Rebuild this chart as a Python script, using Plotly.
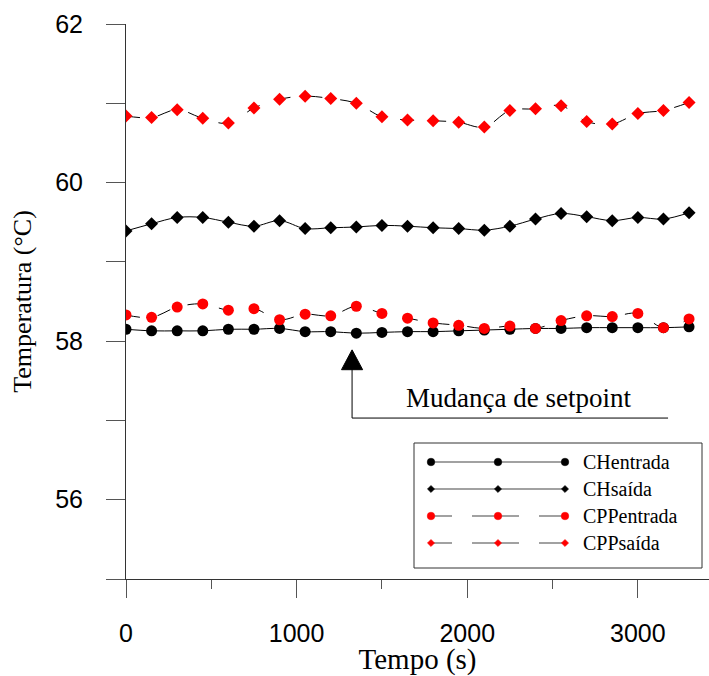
import plotly.graph_objects as go

tempo = [i * 150 for i in range(23)]

ch_entrada = [58.15, 58.13, 58.13, 58.13, 58.15, 58.15, 58.16, 58.12, 58.12, 58.10, 58.11, 58.12,
              58.12, 58.13, 58.14, 58.15, 58.16, 58.16, 58.17, 58.17, 58.17, 58.17, 58.18]
ch_saida = [59.39, 59.48, 59.56, 59.56, 59.50, 59.45, 59.52, 59.42, 59.43, 59.44, 59.46, 59.45,
            59.43, 59.42, 59.40, 59.45, 59.54, 59.61, 59.57, 59.52, 59.56, 59.54, 59.62]
cpp_entrada = [58.33, 58.30, 58.43, 58.47, 58.39, 58.41, 58.27, 58.34, 58.32, 58.44, 58.35, 58.29,
               58.23, 58.20, 58.16, 58.19, 58.16, 58.26, 58.32, 58.31, 58.35, 58.17, 58.28]
cpp_saida = [60.84, 60.82, 60.92, 60.81, 60.75, 60.94, 61.05, 61.09, 61.06, 61.00, 60.83, 60.79,
             60.78, 60.76, 60.70, 60.91, 60.93, 60.97, 60.77, 60.74, 60.87, 60.91, 61.01]

series_names = ["CHentrada", "CHsaída", "CPPentrada", "CPPsaída"]
series_values = [ch_entrada, ch_saida, cpp_entrada, cpp_saida]
marker_colors = ["black", "black", "red", "red"]
marker_symbols = ["circle", "diamond", "circle", "diamond"]
line_dashes = ["solid", "solid", "14px,18px", "14px,18px"]

x_ticks = [0, 1000, 2000, 3000]
y_ticks = [56, 58, 60, 62]
setpoint_time = 1325
setpoint_line_end = 3177
setpoint_level = 57.03

serif = "Liberation Serif, Times New Roman, serif"
sans = "Liberation Sans, Arial, sans-serif"

fig = go.Figure()
for name, vals, col, sym, dash in zip(series_names, series_values, marker_colors, marker_symbols, line_dashes):
    fig.add_trace(go.Scatter(
        x=tempo, y=vals, name=name, mode="lines+markers", showlegend=False,
        line=dict(color="black", width=1, shape="spline", dash=dash),
        marker=dict(symbol=sym, size=11 if sym == "circle" else 10, color=col)))

# setpoint change marker
fig.add_shape(type="line", x0=setpoint_time, x1=setpoint_time, y0=setpoint_level, y1=57.66,
              line=dict(color="black", width=1))
fig.add_shape(type="line", x0=setpoint_time, x1=setpoint_line_end, y0=setpoint_level, y1=setpoint_level,
              line=dict(color="black", width=1))
fig.add_shape(type="path",
              path=f"M {setpoint_time} 57.89 L {setpoint_time-62} 57.64 L {setpoint_time+62} 57.64 Z",
              fillcolor="black", line=dict(color="black", width=1))
fig.add_annotation(x=2298, y=setpoint_level, yshift=3, text="Mudança de setpoint",
                   showarrow=False, yanchor="bottom", font=dict(family=serif, size=27, color="black"))

# custom legend (box with three marker samples per entry, like the original)
W, H, L, B = 583.0, 555.0, 126.0, 579.0
def px(xp):
    return (xp - L) / W
def py(yp):
    return (B - yp) / H

fig.add_shape(type="rect", xref="paper", yref="paper", x0=px(414), x1=px(702), y0=py(568), y1=py(443),
              line=dict(color="#333", width=1), fillcolor="white", layer="above")
row_y = [462, 489, 516, 543]
key_x = [431, 498, 565]
for name, col, sym, dash, ry in zip(series_names, marker_colors, marker_symbols, line_dashes, row_y):
    for k0, k1 in zip(key_x[:-1], key_x[1:]):
        fig.add_shape(type="line", xref="paper", yref="paper", x0=px(k0), x1=px(k1),
                      y0=py(ry), y1=py(ry),
                      line=dict(color="#444", width=1.2,
                                dash="solid" if dash == "solid" else "21px,20px,30px"),
                      layer="above")
    r = 3.8 if sym == "circle" else 3.6
    for kx in key_x:
        if sym == "circle":
            fig.add_shape(type="circle", xref="paper", yref="paper", xsizemode="pixel", ysizemode="pixel",
                          xanchor=px(kx), yanchor=py(ry), x0=-r, x1=r, y0=-r, y1=r,
                          fillcolor=col, line=dict(color=col, width=0.5), layer="above")
        else:
            fig.add_shape(type="path", xref="paper", yref="paper", xsizemode="pixel", ysizemode="pixel",
                          xanchor=px(kx), yanchor=py(ry),
                          path=f"M 0 {r} L {r} 0 L 0 {-r} L {-r} 0 Z",
                          fillcolor=col, line=dict(color=col, width=0.5), layer="above")
    fig.add_annotation(xref="paper", yref="paper", x=px(581), y=py(ry), text=name, showarrow=False,
                       xanchor="left", yanchor="middle", font=dict(family=serif, size=20, color="black"))

fig.update_layout(
    width=709, height=676,
    margin=dict(l=126, r=0, t=24, b=97),
    plot_bgcolor="white", paper_bgcolor="white",
    showlegend=False,
)
fig.update_xaxes(range=[0, 3417], showgrid=False, zeroline=False,
                 showline=True, linecolor="#333", linewidth=1,
                 ticks="outside", ticklen=18, tickcolor="#555", tickwidth=1,
                 tickvals=x_ticks, ticktext=[str(v) for v in x_ticks],
                 tickfont=dict(family=sans, size=25, color="black"), ticklabelstandoff=14,
                 minor=dict(ticks="outside", ticklen=9, dtick=500, tick0=0, tickcolor="#555", showgrid=False),
                 title=dict(text="Tempo (s)", font=dict(family=serif, size=29, color="black"), standoff=0))
fig.update_yaxes(range=[55, 62], showgrid=False, zeroline=False,
                 showline=True, linecolor="#333", linewidth=1,
                 ticks="outside", ticklen=19, tickcolor="#555", tickwidth=1,
                 tickvals=y_ticks, ticktext=[str(v) for v in y_ticks],
                 tickfont=dict(family=sans, size=25, color="black"), ticklabelstandoff=18,
                 minor=dict(ticks="outside", ticklen=19, dtick=1, tick0=55, tickcolor="#555", showgrid=False),
                 title=dict(text="Temperatura (°C)", font=dict(family=serif, size=26, color="black"), standoff=16))

fig.write_html("out.html")
